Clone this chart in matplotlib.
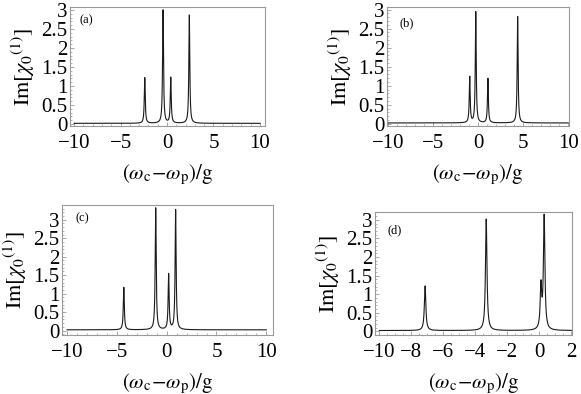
import numpy as np
import matplotlib
matplotlib.use("Agg")
import matplotlib.pyplot as plt
from matplotlib.ticker import MultipleLocator, AutoMinorLocator, FormatStrFormatter

plt.rcParams['font.family'] = ['Liberation Serif', 'DejaVu Serif']
plt.rcParams['mathtext.fontset'] = 'stix'

# peak positions, heights and half widths (Lorentzian lines)
pos_a = [-2.4, -0.43, 0.4, 2.4]
amp_a = [1.2, 2.98, 1.2, 2.85]
pos_b = [-0.92, -0.25, 1.1, 4.4]
amp_b = [1.21, 2.92, 1.17, 2.8]
pos_c = [-4.3, -1.1, 0.2, 0.9]
amp_c = [1.15, 3.3, 1.5, 3.25]
pos_d = [-7.14, -3.32, 0.1, 0.3]
amp_d = [1.2, 3.0, 1.15, 3.05]
wid_abc = 0.06
wid_d = 0.055
baseline = 0.02

panels = [
    dict(pos=pos_a, amp=amp_a, wid=wid_abc, label='(a)', x0=-10, x1=10,
         xlim=(-10.45, 10.55), ylim=(-0.05, 3.08), rect=[70, 7, 265, 126], lab=(80, 20)),
    dict(pos=pos_b, amp=amp_b, wid=wid_abc, label='(b)', x0=-10, x1=10,
         xlim=(-10.1, 10.1), ylim=(-0.06, 3.07), rect=[387, 7, 569, 126], lab=(400, 23)),
    dict(pos=pos_c, amp=amp_c, wid=wid_abc, label='(c)', x0=-10, x1=10,
         xlim=(-10.5, 10.67), ylim=(-0.12, 3.4), rect=[62, 205, 273, 335], lab=(75, 218)),
    dict(pos=pos_d, amp=amp_d, wid=wid_d, label='(d)', x0=-10, x1=2,
         xlim=(-10.27, 2.04), ylim=(-0.1, 3.21), rect=[375, 212, 572, 335], lab=(388, 230)),
]

W, H = 581, 394
fig = plt.figure(figsize=(W / 100, H / 100), dpi=100)

for p in panels:
    l, t, r, b = p['rect']
    ax = fig.add_axes([l / W, 1 - b / H, (r - l) / W, (b - t) / H])
    x = np.linspace(p['x0'], p['x1'], 6000)
    y = np.full_like(x, baseline)
    for c, a in zip(p['pos'], p['amp']):
        y += a * p['wid'] ** 2 / ((x - c) ** 2 + p['wid'] ** 2)
    ax.plot(x, y, color='#1a1a1a', lw=0.8)
    ax.set_xlim(p['xlim'])
    ax.set_ylim(p['ylim'])
    ax.xaxis.set_major_locator(MultipleLocator(5 if p['x1'] == 10 else 2))
    ax.xaxis.set_minor_locator(AutoMinorLocator(5 if p['x1'] == 10 else 4))
    ax.yaxis.set_major_locator(MultipleLocator(0.5))
    ax.yaxis.set_minor_locator(AutoMinorLocator(5))
    ax.yaxis.set_major_formatter(FormatStrFormatter('%g'))
    for s in ax.spines.values():
        s.set_color('#999999')
        s.set_linewidth(0.8)
    ax.tick_params(which='both', direction='in', color='#999999', labelsize=15)
    ax.tick_params(axis='x', pad=6)
    ax.tick_params(axis='y', pad=2)
    ax.tick_params(which='major', length=3, width=0.6)
    ax.tick_params(which='minor', length=1.5, width=0.5)
    ax.set_xlabel(r'$(\omega_\mathrm{c}\!-\!\omega_\mathrm{p})/\mathrm{g}$', fontsize=15, labelpad=7)
    ax.set_ylabel(r'$\mathrm{Im}[\chi_0{}^{(1)}]$', fontsize=16, labelpad=3)
    lx, ly = p['lab']
    fig.text(lx / W, 1 - ly / H, p['label'], fontsize=9, va='center', ha='left')

fig.savefig('out.png', dpi=100)
